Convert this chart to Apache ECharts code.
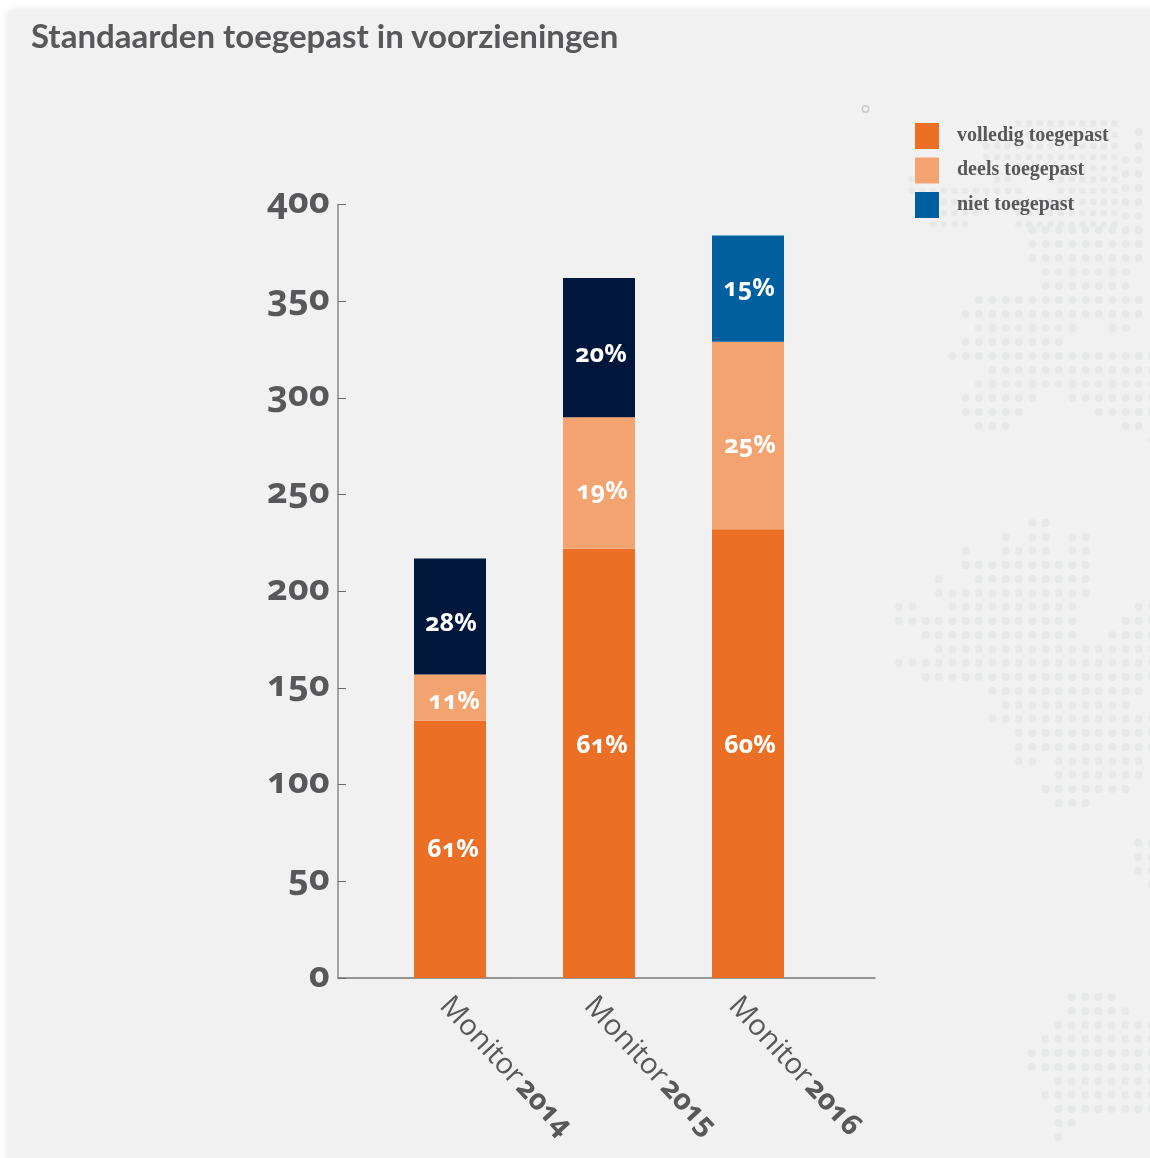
<!DOCTYPE html>
<html>
<head>
<meta charset="utf-8">
<title>Standaarden toegepast in voorzieningen</title>
<script src="https://cdn.jsdelivr.net/npm/echarts@6/dist/echarts.min.js"></script>
<style>
  html, body { margin: 0; padding: 0; background: #fff; }
  #wrap { position: relative; width: 1150px; height: 1158px; overflow: hidden; }
  #panel {
    position: absolute; left: 8px; top: 10px; width: 1160px; height: 1160px;
    background: #f1f1f1; box-shadow: 0 0 9px rgba(0, 0, 0, 0.09);
  }
  #dots { position: absolute; left: 0; top: 0; }
  #chart {
    position: absolute; left: 0; top: 0; width: 1150px; height: 1158px;
    font-feature-settings: "onum" 1; font-variant-numeric: oldstyle-nums;
  }
</style>
</head>
<body>
<div id="wrap">
  <div id="panel"></div>
  <canvas id="dots" width="1150" height="1158"></canvas>
  <div id="chart"></div>
</div>
<script>
  // data
  const categories = ['2014', '2015', '2016'];
  const seriesNames = ['volledig toegepast', 'deels toegepast', 'niet toegepast'];
  const volledig = [133, 222, 232];
  const deels = [24, 68, 97];
  const niet = [60, 72, 55];
  const volledigPct = ['61%', '61%', '60%'];
  const deelsPct = ['11%', '19%', '25%'];
  const nietPct = ['28%', '20%', '15%'];

  const GREY = '#58585a';
  const TITLE_FONT = 'Lato, sans-serif';
  const NUM_FONT = '"Noto Sans", sans-serif'; // heeft old-style cijfers

  // achtergrond: gestippelde kaart, puur decoratie
  function drawPatch(ctx, x0, y0, dx, dy, r, rows) {
    rows.forEach((runs, row) => {
      for (let i = 0; i < runs.length; i += 2) {
        for (let c = runs[i]; c <= runs[i + 1]; c++) {
          ctx.beginPath();
          ctx.arc(x0 + c * dx, y0 + row * dy, r, 0, Math.PI * 2);
          ctx.fill();
        }
      }
    });
  }
  const dotCtx = document.getElementById('dots').getContext('2d');
  dotCtx.fillStyle = '#e7e8e8';
  // bovenste vlek (kleine stippen achter de legenda)
  drawPatch(dotCtx, 911.7, 123.5, 10.67, 11.2, 3.3, [
    [10, 19], [10, 19], [7, 19], [7, 19], [10, 19],
    [0, 0, 8, 9, 13, 19], [0, 10, 14, 19], [3, 6, 10, 19], [3, 6, 10, 19], [2, 5, 10, 19],
  ]);
  drawPatch(dotCtx, 1138.7, 132, 13.33, 14, 4, [[0, 0], [0, 0], [-1, 0], [-1, 0], [-1, 0], [-1, 0], [-1, 0], [-1, 0]]);
  drawPatch(dotCtx, 952.3, 230, 13.33, 14, 4, [
    [6, 14], [6, 14], [6, 14], [7, 13], [7, 13], [2, 14], [1, 14], [2, 9, 12, 13], [1, 8],
    [0, 15], [3, 15], [2, 15], [1, 6, 9, 15], [1, 5, 11, 15], [2, 4, 13, 14], [15, 15],
  ]);
  // middelste vlek
  drawPatch(dotCtx, 899, 523, 13.33, 14, 4, [
    [10, 11], [8, 8, 10, 11, 13, 14], [5, 5, 8, 11, 13, 14], [5, 14], [3, 3, 6, 14], [3, 14],
    [0, 1, 4, 13, 18, 19], [0, 13, 17, 19], [2, 13, 16, 19], [3, 19], [0, 19], [2, 19],
    [7, 18], [8, 17], [7, 19], [9, 19], [9, 19], [9, 10, 12, 18], [12, 18], [11, 17], [12, 14],
  ]);
  // onderste vlek
  drawPatch(dotCtx, 1031.7, 843, 13.33, 14, 4, [
    [8, 9], [8, 9], [8, 9], [9, 9], [], [], [], [], [], [], [],
    [3, 6], [3, 7], [2, 9], [1, 9], [0, 9], [0, 9], [2, 9], [1, 9], [2, 9], [2, 3], [2, 2],
  ]);
  // kleine ring boven de legenda
  dotCtx.strokeStyle = '#c9c9c9';
  dotCtx.lineWidth = 1.5;
  dotCtx.beginPath();
  dotCtx.arc(865.5, 109, 3.2, 0, Math.PI * 2);
  dotCtx.stroke();

  const barLabel = (texts) => ({
    show: true,
    position: 'inside',
    color: '#fff',
    fontFamily: NUM_FONT,
    fontWeight: 700,
    fontSize: 25,
    formatter: (p) => texts[p.dataIndex],
  });

  // verschuiving van de percentages t.o.v. het midden van het segment
  const withOffset = (values, offsets, extra) =>
    values.map((v, i) => Object.assign({ value: v, label: { offset: offsets[i] } }, extra ? extra(i) : {}));

  const chart = echarts.init(document.getElementById('chart'), null, { renderer: 'svg' });
  chart.setOption({
    animation: false,
    backgroundColor: 'transparent',
    title: {
      text: 'Standaarden toegepast in voorzieningen',
      left: 26,
      top: 13,
      textStyle: { color: GREY, fontFamily: TITLE_FONT, fontWeight: 700, fontSize: 33 },
    },
    legend: {
      left: 915,
      top: 123,
      padding: 0,
      orient: 'vertical',
      icon: 'rect',
      itemWidth: 24,
      itemHeight: 26,
      itemGap: 8.5,
      data: seriesNames,
      formatter: (n) => `{t|${n}}`,
      textStyle: {
        rich: {
          t: {
            color: GREY,
            fontFamily: '"Liberation Serif", serif',
            fontWeight: 700,
            fontSize: 20,
            padding: [0, 0, 5, 13],
          },
        },
      },
    },
    // grid 0 draagt de assen, grid 1 de staven, grid 2 de schuine labels:
    // staven en labels staan dichter op elkaar dan de as breed is
    grid: [
      { left: 338, top: 204.5, width: 537, height: 773.5 },
      { left: 375.5, top: 204.5, width: 447, height: 773.5 },
      { left: 374.75, top: 204.5, width: 433.5, height: 773.5 },
    ],
    xAxis: [
      {
        gridIndex: 0,
        type: 'category',
        data: categories,
        axisLine: { lineStyle: { color: '#77787a', width: 1.5 } },
        axisTick: { show: false },
        axisLabel: { show: false },
      },
      {
        gridIndex: 1,
        type: 'category',
        data: categories,
        axisLine: { show: false },
        axisTick: { show: false },
        axisLabel: { show: false },
      },
      {
        gridIndex: 2,
        type: 'category',
        data: categories,
        axisLine: { show: false },
        axisTick: { show: false },
        axisLabel: {
          interval: 0,
          rotate: -47,
          margin: 21,
          formatter: (v) => `{a|Monitor} {b|${v}}`,
          rich: {
            a: { color: GREY, fontFamily: '"Open Sans", sans-serif', fontWeight: 400, fontSize: 29 },
            b: { color: GREY, fontFamily: '"Open Sans", sans-serif', fontWeight: 700, fontSize: 29 },
          },
        },
      },
    ],
    yAxis: [
      {
        gridIndex: 0,
        type: 'value',
        min: 0,
        max: 400,
        interval: 50,
        splitLine: { show: false },
        axisLine: { show: true, lineStyle: { color: '#8a8a8a', width: 1.5 } },
        axisTick: { show: true, inside: true, length: 8, lineStyle: { color: '#6a6a6a', width: 1 } },
        axisLabel: {
          margin: 8,
          color: GREY,
          fontFamily: NUM_FONT,
          fontWeight: 700,
          fontSize: 36,
          verticalAlign: 'bottom',
          lineHeight: 10,
        },
      },
      { gridIndex: 1, type: 'value', min: 0, max: 400, interval: 50, show: false },
      { gridIndex: 2, type: 'value', min: 0, max: 400, interval: 50, show: false },
    ],
    series: [
      {
        name: seriesNames[0],
        type: 'bar',
        stack: 'monitor',
        xAxisIndex: 1,
        yAxisIndex: 1,
        barWidth: 72,
        itemStyle: { color: '#eb6f25' },
        label: barLabel(volledigPct),
        data: withOffset(volledig, [[3, -2], [3, -20], [2, -11]]),
      },
      {
        name: seriesNames[1],
        type: 'bar',
        stack: 'monitor',
        xAxisIndex: 1,
        yAxisIndex: 1,
        barWidth: 72,
        itemStyle: { color: '#f3a370' },
        label: barLabel(deelsPct),
        data: withOffset(deels, [[4, 1], [3, 6], [2, 7]]),
      },
      {
        name: seriesNames[2],
        type: 'bar',
        stack: 'monitor',
        xAxisIndex: 1,
        yAxisIndex: 1,
        barWidth: 72,
        itemStyle: { color: '#005f9f' },
        label: barLabel(nietPct),
        // 2014 en 2015 staan in de bron donkerblauw
        data: withOffset(niet, [[1, 5], [2, 4], [1, -3]], (i) =>
          i < 2 ? { itemStyle: { color: '#00163a' } } : {}),
      },
    ],
  });
</script>
</body>
</html>
